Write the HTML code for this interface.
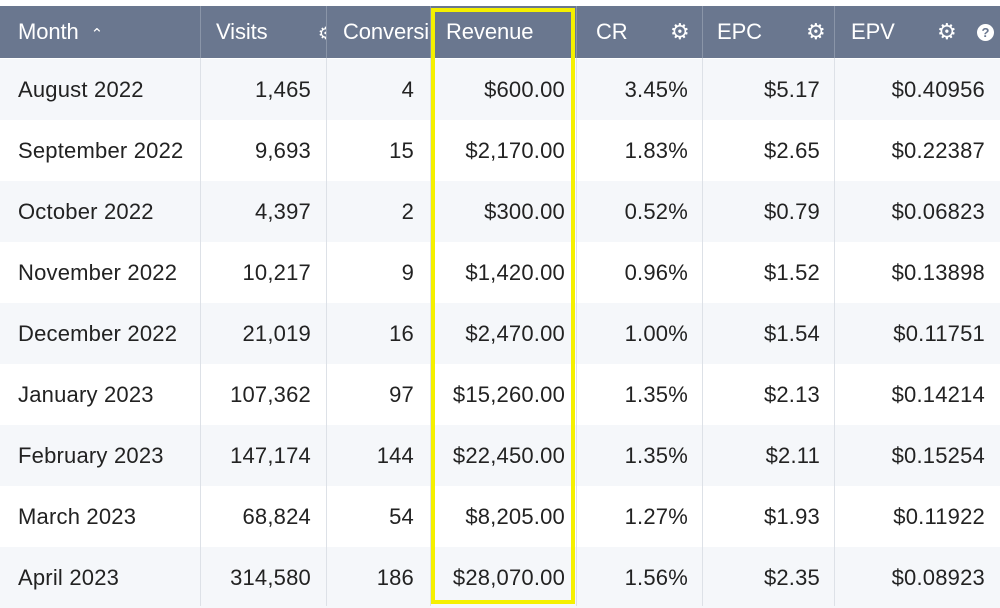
<!DOCTYPE html>
<html><head><style>
body{margin:0;width:1000px;height:606px;background:#fff;overflow:hidden;font-family:"Liberation Sans",sans-serif;position:relative}
.h{position:absolute;top:6px;height:52px;background:#6a778f;color:#fff;font-size:22px;line-height:52px;letter-spacing:-0.1px}
.c{position:absolute;font-size:22px;color:#222;letter-spacing:0.2px;white-space:nowrap}
.row{position:absolute;left:0;width:1000px;height:61px}
.vl{position:absolute;width:1px;background:#dde1e7}
.hl{position:absolute;top:6px;height:52px;width:1px;background:#8a95a8}
.g{position:absolute;font-size:17px}
</style></head><body>
<div class="h" style="left:0;width:1000px"></div>
<div id="rows"></div>
<script>
const data=[
["August 2022","1,465","4","$600.00","3.45%","$5.17","$0.40956"],
["September 2022","9,693","15","$2,170.00","1.83%","$2.65","$0.22387"],
["October 2022","4,397","2","$300.00","0.52%","$0.79","$0.06823"],
["November 2022","10,217","9","$1,420.00","0.96%","$1.52","$0.13898"],
["December 2022","21,019","16","$2,470.00","1.00%","$1.54","$0.11751"],
["January 2023","107,362","97","$15,260.00","1.35%","$2.13","$0.14214"],
["February 2023","147,174","144","$22,450.00","1.35%","$2.11","$0.15254"],
["March 2023","68,824","54","$8,205.00","1.27%","$1.93","$0.11922"],
["April 2023","314,580","186","$28,070.00","1.56%","$2.35","$0.08923"]];
const rights=[311,414,565,688,820,985];
let h="";
data.forEach((r,i)=>{
 const top=59+i*61;
 h+=`<div class="row" style="top:${top}px;background:${i%2==0?'#f5f7fa':'#fff'}"></div>`;
 const y=top+18;
 h+=`<div class="c" style="left:18px;top:${y}px">${r[0]}</div>`;
 for(let j=1;j<7;j++)h+=`<div class="c" style="right:${1000-rights[j-1]}px;top:${y}px">${r[j]}</div>`;
});
[200,326,430,576,702,834].forEach(x=>{h+=`<div class="vl" style="left:${x}px;top:58px;height:548px"></div><div class="hl" style="left:${x}px"></div>`});
document.getElementById("rows").innerHTML=h;
</script>
<div class="h" style="left:18px;background:none">Month &nbsp;<span style="font-size:15px">&#8963;</span></div>
<div class="h" style="left:216px;background:none">Visits</div>
<div class="h" style="left:318px;background:none;width:8px;overflow:hidden"><span class="g" style="position:static">&#9881;</span></div>
<div class="h" style="left:343px;width:87px;overflow:hidden;background:none">Conversions</div>
<div class="h" style="left:446px;background:none">Revenue</div>
<div class="h" style="left:596px;background:none">CR</div>
<div class="h" style="left:670px;background:none;font-size:22px">&#9881;</div>
<div class="h" style="left:717px;background:none">EPC</div>
<div class="h" style="left:806px;background:none;font-size:22px">&#9881;</div>
<div class="h" style="left:851px;background:none">EPV</div>
<div class="h" style="left:937px;background:none;font-size:22px">&#9881;</div>
<div style="position:absolute;left:977px;top:24px;width:17px;height:17px;border-radius:50%;background:#fff;color:#6a778f;font-size:13px;font-weight:bold;text-align:center;line-height:17px">?</div>
<div style="position:absolute;left:431px;top:8px;width:136px;height:588px;border:4px solid #f5f000"></div>
</body></html>
